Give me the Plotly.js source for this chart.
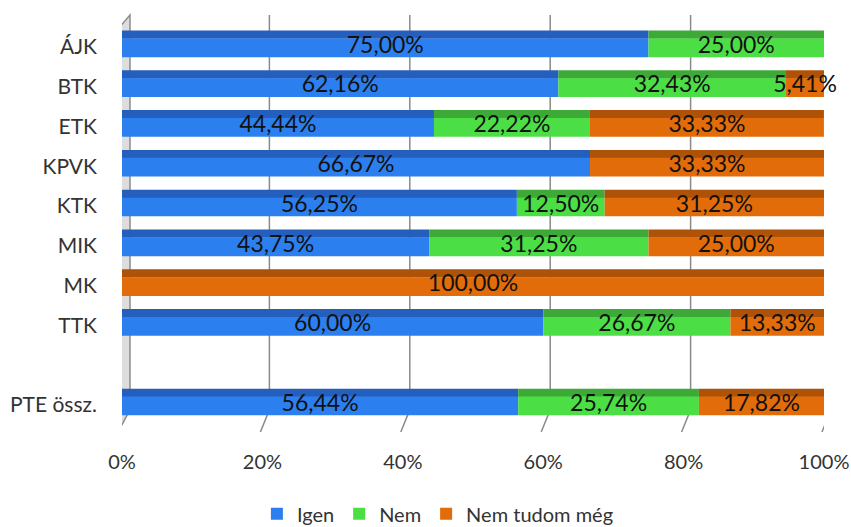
<!DOCTYPE html>
<html><head><meta charset="utf-8">
<script src="https://cdn.plot.ly/plotly-3.0.1.min.js"></script>
<style>html,body{margin:0;padding:0;background:#fff}#c{width:851px;height:527px}</style>
</head><body><div id="c"></div>
<script>
const categories = ['ÁJK','BTK','ETK','KPVK','KTK','MIK','MK','TTK',' ','PTE össz.'];
const igen = [75.00, 62.16, 44.44, 66.67, 56.25, 43.75, 0, 60.00, null, 56.44];
const nem = [25.00, 32.43, 22.22, 0, 12.50, 31.25, 0, 26.67, null, 25.74];
const nemTudom = [0, 5.41, 33.33, 33.33, 31.25, 25.00, 100.00, 13.33, null, 17.82];
const seriesNames = ['Igen','Nem','Nem tudom még'];
const xTicks = [0, 20, 40, 60, 80, 100];
const xTickText = ['0%','20%','40%','60%','80%','100%'];

const frontColors = ['#2C7FEE','#4CDF45','#E36C0A'];
const topColors = ['#245FBE','#3DAA38','#AE5208'];
const FONT = 'Lato, "Open Sans", sans-serif';

const series = [igen, nem, nemTudom];
const bases = [];
let run = categories.map(() => 0);
series.forEach(s => { bases.push(run.slice()); run = run.map((r,i) => r + (s[i] || 0)); });

const fmt = v => (v == null || v === 0) ? '' : v.toFixed(2).replace('.', ',') + '%';

const traces = [];
series.forEach((s, k) => {
  traces.push({
    type: 'bar', orientation: 'h', y: categories, x: s, base: bases[k],
    offset: -0.41, width: 0.21, marker: {color: topColors[k], line: {width: 0}},
    showlegend: false, hoverinfo: 'skip'
  });
});
series.forEach((s, k) => {
  traces.push({
    type: 'bar', orientation: 'h', y: categories, x: s, base: bases[k], name: seriesNames[k],
    offset: -0.21, width: 0.47, marker: {color: frontColors[k], line: {width: 0}},
    hoverinfo: 'skip'
  });
});
series.forEach((s, k) => {
  traces.push({
    type: 'scatter', mode: 'text', y: categories,
    x: s.map((v, i) => v ? bases[k][i] + v / 2 : null),
    text: s.map(fmt), textposition: 'middle center',
    textfont: {family: FONT, size: 23, color: '#111'},
    showlegend: false, hoverinfo: 'skip', cliponaxis: false
  });
});

const shapes = [];
shapes.push({type: 'path', xref: 'x', xsizemode: 'pixel', xanchor: 0, yref: 'paper',
  path: 'M -4,0.966 L 8,1.0 L 8,0.053 L -4,0 Z', fillcolor: '#DDDDDD',
  line: {color: '#8C8C8C', width: 1.5}, layer: 'below'});
xTicks.slice(1).forEach(t => {
  shapes.push({type: 'path', xref: 'x', xsizemode: 'pixel', xanchor: t, yref: 'paper',
    path: 'M 7,1.0 L 7,0.053 L -2,0', line: {color: '#8A8A8A', width: 1.5}, layer: 'below'});
});

const layout = {
  width: 851, height: 527,
  margin: {l: 122, r: 27, t: 15, b: 95, autoexpand: false},
  barmode: 'overlay',
  paper_bgcolor: '#fff', plot_bgcolor: 'rgba(0,0,0,0)',
  font: {family: FONT, size: 20, color: '#333'},
  xaxis: {range: [0, 100], tickvals: xTicks, ticktext: xTickText, showgrid: false,
    zeroline: false, showline: false, ticks: '', ticklabelstandoff: 16,
    tickfont: {family: FONT, size: 20, color: '#333'}, fixedrange: true},
  yaxis: {type: 'category', categoryorder: 'array', categoryarray: categories,
    range: [9.68, -0.8], showgrid: false, zeroline: false, showline: false, ticks: '',
    ticklabelstandoff: 24, tickfont: {family: FONT, size: 21, color: '#333'}, fixedrange: true},
  legend: {orientation: 'h', x: 0.45, xanchor: 'center', yref: 'container', y: 0.025, yanchor: 'middle',
    font: {family: FONT, size: 20, color: '#333'}, traceorder: 'normal'},
  shapes: shapes,
  showlegend: true
};

Plotly.newPlot('c', traces, layout, {displayModeBar: false, staticPlot: true});
</script></body></html>
